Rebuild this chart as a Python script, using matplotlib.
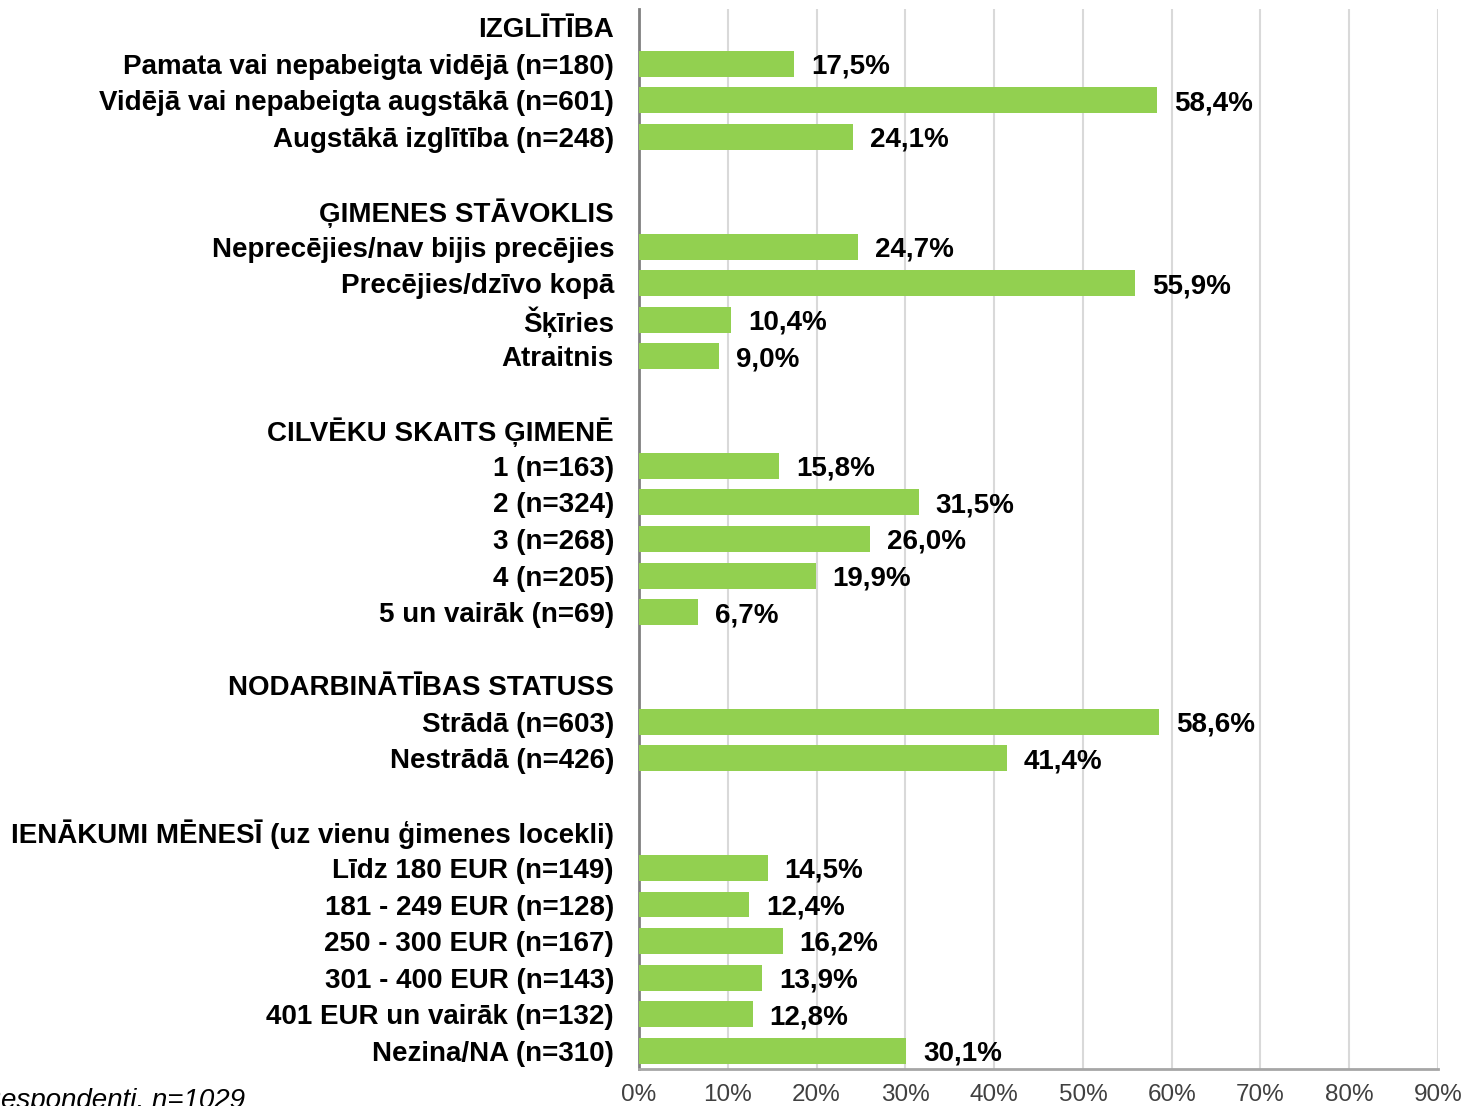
import matplotlib
matplotlib.use("Agg")
import matplotlib.pyplot as plt
from matplotlib import font_manager as fm

# grupas un vērtības (%)
edu_title = "IZGLĪTĪBA"
edu_labels = ["Pamata vai nepabeigta vidējā (n=180)",
              "Vidējā vai nepabeigta augstākā (n=601)",
              "Augstākā izglītība (n=248)"]
edu_values = [17.5, 58.4, 24.1]

fam_title = "ĢIMENES STĀVOKLIS"
fam_labels = ["Neprecējies/nav bijis precējies", "Precējies/dzīvo kopā",
              "Šķīries", "Atraitnis"]
fam_values = [24.7, 55.9, 10.4, 9.0]

ppl_title = "CILVĒKU SKAITS ĢIMENĒ"
ppl_labels = ["1 (n=163)", "2 (n=324)", "3 (n=268)", "4 (n=205)", "5 un vairāk (n=69)"]
ppl_values = [15.8, 31.5, 26.0, 19.9, 6.7]

job_title = "NODARBINĀTĪBAS STATUSS"
job_labels = ["Strādā (n=603)", "Nestrādā (n=426)"]
job_values = [58.6, 41.4]

inc_title = "IENĀKUMI MĒNESĪ (uz vienu ģimenes locekli)"
inc_labels = ["Līdz 180 EUR (n=149)", "181 - 249 EUR (n=128)", "250 - 300 EUR (n=167)",
              "301 - 400 EUR (n=143)", "401 EUR un vairāk (n=132)", "Nezina/NA (n=310)"]
inc_values = [14.5, 12.4, 16.2, 13.9, 12.8, 30.1]

x_ticks = [0, 10, 20, 30, 40, 50, 60, 70, 80, 90]
note = "Respondenti, n=1029"

groups = [(edu_title, edu_labels, edu_values),
          (fam_title, fam_labels, fam_values),
          (ppl_title, ppl_labels, ppl_values),
          (job_title, job_labels, job_values),
          (inc_title, inc_labels, inc_values)]

# fonts
names = set(f.name for f in fm.fontManager.ttflist)
fam = "Liberation Sans Narrow" if "Liberation Sans Narrow" in names else "Liberation Sans"
plt.rcParams['font.family'] = [fam, 'DejaVu Sans']

# rindu saraksts (virsraksts, joslas, tukša rinda)
row_labels = []
row_values = []
for gi, (title, labels, values) in enumerate(groups):
    row_labels.append(title)
    row_values.append(None)
    row_labels += labels
    row_values += values
    if gi < len(groups) - 1:
        row_labels.append("")
        row_values.append(None)

n = len(row_labels)
ypos = list(range(n))

fig = plt.figure(figsize=(14.62, 11.06), dpi=100)
ax = fig.add_axes([639 / 1462, 37 / 1106, 799 / 1462, 1060 / 1106])

green = "#92D050"
for y, v in zip(ypos, row_values):
    if v is None:
        continue
    ax.barh(y, v, height=0.71, color=green, zorder=3)
    ax.text(v + 1.9, y + 0.08, f"{v:.1f}%".replace(".", ","), va="center", ha="left",
            fontsize=20, fontweight="bold", color="black", zorder=4)

ax.set_ylim(n - 0.5, -0.5)
ax.set_xlim(0, 90)
ax.set_yticks(ypos)
ax.set_yticklabels(row_labels, fontsize=20, fontweight="bold")
ax.set_xticks(x_ticks)
ax.set_xticklabels([f"{t}%" for t in x_ticks], fontsize=17.5, color="#404040")
ax.tick_params(axis="y", length=0, pad=18)
ax.tick_params(axis="x", length=0, pad=11)

ax.grid(axis="x", color="#d9d9d9", linewidth=1.5, zorder=0)
for s in ["top", "right"]:
    ax.spines[s].set_visible(False)
ax.spines["left"].set_color("#808080")
ax.spines["left"].set_linewidth(2)
ax.spines["bottom"].set_color("#a6a6a6")
ax.spines["bottom"].set_linewidth(2)

# piezīme, kreisajā malā daļēji nogriezta kā oriģinālā
fig.text(245 / 1462, 5 / 1106, note, ha="right", va="center", fontsize=20,
         style="italic", color="black")

fig.savefig("out.png", dpi=100)
